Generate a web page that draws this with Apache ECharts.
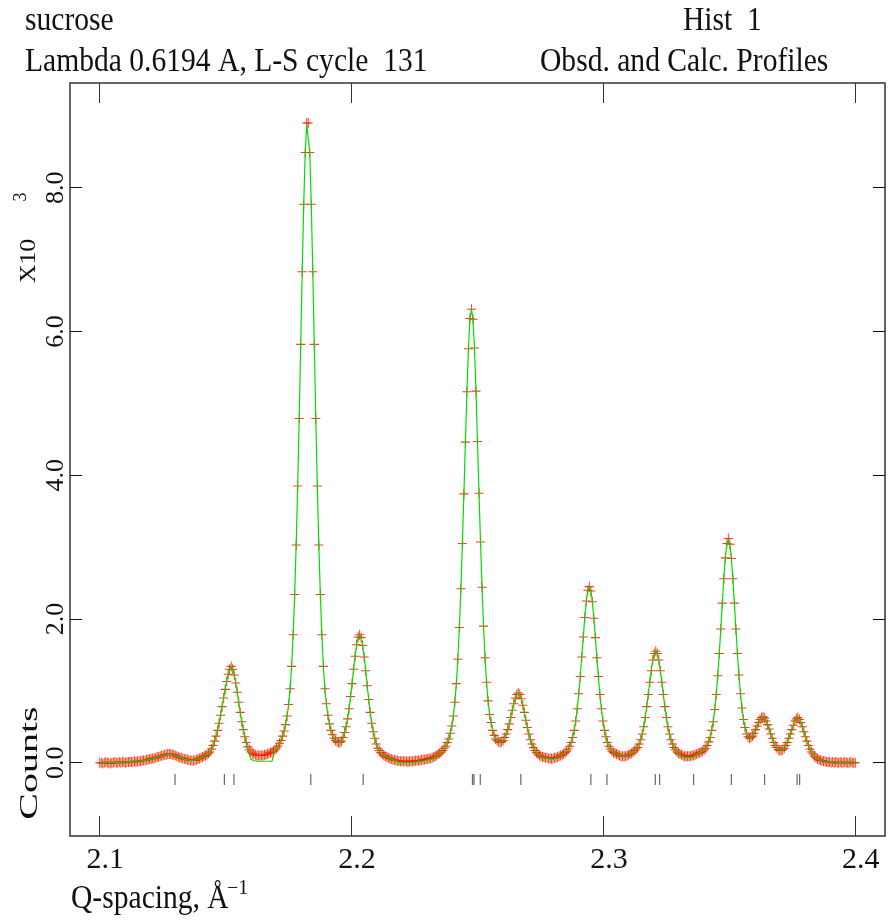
<!DOCTYPE html>
<html>
<head>
<meta charset="utf-8">
<script src="https://cdn.jsdelivr.net/npm/echarts@6.0.0/dist/echarts.min.js"></script>
<style>
html,body{margin:0;padding:0;background:#fff;}
#chart{width:890px;height:921px;}
</style>
</head>
<body>
<div id="chart"></div>
<script>
// Q grid of the profile points
const qStart = 2.1;
const qStep = 0.0006;

const obs = [
0.00,0.00,-0.01,0.00,0.01,0.00,0.00,-0.01,0.00,0.00,
0.01,0.00,0.00,0.01,0.00,0.01,0.01,0.00,0.01,0.01,
0.01,0.01,0.01,0.02,0.01,0.02,0.02,0.02,0.03,0.03,
0.03,0.04,0.04,0.05,0.05,0.06,0.06,0.07,0.08,0.08,
0.09,0.10,0.10,0.11,0.11,0.12,0.12,0.12,0.11,0.11,
0.10,0.09,0.08,0.07,0.07,0.06,0.05,0.05,0.04,0.04,
0.03,0.03,0.03,0.03,0.04,0.05,0.06,0.07,0.08,0.09,
0.10,0.11,0.13,0.15,0.19,0.24,0.30,0.37,0.45,0.55,
0.66,0.78,0.90,1.02,1.13,1.23,1.30,1.34,1.30,1.22,
1.11,0.98,0.84,0.70,0.57,0.46,0.36,0.28,0.22,0.18,
0.15,0.13,0.12,0.11,0.10,0.10,0.10,0.10,0.10,0.11,
0.11,0.12,0.13,0.14,0.15,0.16,0.18,0.20,0.23,0.27,
0.31,0.37,0.44,0.53,0.65,0.81,1.03,1.34,1.78,2.34,
3.03,3.85,4.79,5.82,6.83,7.77,8.49,8.90,8.90,8.49,
7.77,6.83,5.82,4.79,3.85,3.03,2.34,1.78,1.34,1.03,
0.82,0.66,0.54,0.45,0.39,0.34,0.31,0.29,0.28,0.28,
0.30,0.35,0.42,0.50,0.61,0.75,0.92,1.10,1.30,1.48,
1.64,1.75,1.78,1.74,1.63,1.47,1.28,1.07,0.88,0.70,
0.55,0.43,0.34,0.26,0.20,0.17,0.14,0.12,0.10,0.09,
0.08,0.07,0.06,0.05,0.04,0.04,0.03,0.03,0.02,0.02,
0.02,0.02,0.02,0.02,0.01,0.02,0.02,0.02,0.02,0.03,
0.03,0.03,0.03,0.04,0.04,0.04,0.05,0.05,0.06,0.06,
0.07,0.08,0.09,0.10,0.12,0.13,0.15,0.17,0.20,0.23,
0.28,0.33,0.41,0.51,0.65,0.84,1.10,1.44,1.88,2.42,
3.05,3.74,4.46,5.16,5.76,6.18,6.31,6.17,5.77,5.17,
4.47,3.75,3.07,2.44,1.90,1.46,1.12,0.86,0.67,0.56,
0.45,0.38,0.33,0.31,0.29,0.28,0.29,0.31,0.35,0.40,
0.46,0.54,0.63,0.73,0.82,0.90,0.95,0.97,0.95,0.89,
0.80,0.70,0.59,0.49,0.40,0.32,0.26,0.21,0.17,0.14,
0.12,0.10,0.09,0.08,0.08,0.07,0.07,0.06,0.06,0.06,
0.06,0.07,0.07,0.08,0.09,0.10,0.11,0.12,0.14,0.16,
0.19,0.23,0.28,0.35,0.45,0.58,0.75,0.96,1.20,1.47,
1.75,2.02,2.25,2.40,2.45,2.39,2.24,2.01,1.74,1.46,
1.20,0.95,0.75,0.58,0.45,0.36,0.28,0.23,0.19,0.16,
0.14,0.13,0.12,0.11,0.10,0.09,0.09,0.09,0.09,0.10,
0.11,0.12,0.13,0.15,0.17,0.19,0.21,0.26,0.32,0.40,
0.50,0.63,0.78,0.95,1.12,1.28,1.43,1.52,1.55,1.52,
1.43,1.28,1.12,0.95,0.78,0.63,0.50,0.40,0.32,0.26,
0.21,0.18,0.15,0.13,0.12,0.11,0.10,0.09,0.09,0.09,
0.09,0.09,0.10,0.10,0.11,0.12,0.13,0.14,0.15,0.16,
0.18,0.20,0.24,0.29,0.35,0.45,0.57,0.74,0.95,1.21,
1.52,1.86,2.22,2.56,2.85,3.05,3.12,3.04,2.84,2.56,
2.22,1.86,1.52,1.22,0.96,0.76,0.60,0.49,0.40,0.36,
0.34,0.35,0.37,0.41,0.46,0.51,0.56,0.60,0.63,0.64,
0.62,0.58,0.53,0.47,0.40,0.34,0.28,0.24,0.21,0.18,
0.17,0.17,0.18,0.20,0.24,0.28,0.34,0.40,0.46,0.52,
0.58,0.61,0.63,0.60,0.56,0.50,0.43,0.36,0.30,0.24,
0.19,0.15,0.12,0.09,0.07,0.05,0.04,0.03,0.03,0.02,
0.02,0.01,0.01,0.01,0.00,0.01,0.00,0.01,0.00,0.00,
0.01,0.00,0.00,0.01,0.00,0.00,0.00,0.01,0.00,0.00,
0.00
];

// Calculated profile (x10^3), same grid
const calc = [
0.00,0.00,-0.01,0.00,0.01,0.00,0.00,-0.01,0.00,0.00,
0.01,0.00,0.00,0.01,0.00,0.01,0.01,0.00,0.01,0.01,
0.01,0.01,0.01,0.02,0.01,0.02,0.02,0.02,0.03,0.03,
0.03,0.04,0.04,0.05,0.05,0.06,0.06,0.07,0.08,0.08,
0.09,0.10,0.10,0.11,0.11,0.12,0.12,0.12,0.11,0.11,
0.10,0.09,0.08,0.07,0.07,0.06,0.05,0.05,0.04,0.04,
0.03,0.03,0.03,0.03,0.04,0.05,0.06,0.07,0.08,0.09,
0.10,0.11,0.13,0.15,0.19,0.24,0.30,0.37,0.45,0.55,
0.66,0.78,0.90,1.02,1.13,1.23,1.30,1.34,1.30,1.22,
1.11,0.98,0.84,0.70,0.57,0.46,0.36,0.27,0.20,0.12,
0.05,0.03,0.03,0.02,0.02,0.02,0.02,0.02,0.02,0.02,
0.02,0.02,0.02,0.02,0.02,0.02,0.18,0.20,0.23,0.27,
0.31,0.37,0.44,0.53,0.65,0.81,1.03,1.34,1.78,2.34,
3.03,3.85,4.79,5.82,6.83,7.77,8.49,8.88,8.88,8.49,
7.77,6.83,5.82,4.79,3.85,3.03,2.34,1.78,1.34,1.03,
0.82,0.66,0.54,0.45,0.39,0.34,0.31,0.29,0.28,0.28,
0.30,0.35,0.42,0.50,0.61,0.75,0.92,1.10,1.30,1.48,
1.64,1.75,1.78,1.74,1.63,1.47,1.28,1.07,0.88,0.70,
0.55,0.43,0.34,0.26,0.20,0.17,0.14,0.12,0.10,0.09,
0.08,0.07,0.06,0.05,0.04,0.04,0.03,0.03,0.00,0.00,
0.00,0.00,0.00,0.00,0.00,0.00,0.00,0.00,0.00,0.01,
0.01,0.01,0.01,0.02,0.02,0.02,0.03,0.03,0.04,0.04,
0.05,0.06,0.07,0.10,0.12,0.13,0.15,0.17,0.20,0.23,
0.28,0.33,0.41,0.51,0.65,0.84,1.10,1.44,1.88,2.42,
3.05,3.74,4.46,5.16,5.76,6.18,6.31,6.17,5.77,5.17,
4.47,3.75,3.07,2.44,1.90,1.46,1.12,0.86,0.67,0.56,
0.45,0.38,0.33,0.31,0.29,0.28,0.29,0.31,0.35,0.40,
0.46,0.54,0.63,0.73,0.82,0.90,0.95,0.97,0.95,0.89,
0.80,0.70,0.59,0.49,0.40,0.32,0.26,0.21,0.17,0.14,
0.11,0.09,0.08,0.07,0.07,0.06,0.06,0.05,0.05,0.05,
0.05,0.06,0.06,0.08,0.09,0.10,0.11,0.12,0.14,0.16,
0.19,0.23,0.28,0.35,0.45,0.58,0.75,0.96,1.20,1.47,
1.75,2.02,2.25,2.40,2.45,2.39,2.24,2.01,1.74,1.46,
1.20,0.95,0.75,0.58,0.45,0.36,0.28,0.23,0.19,0.16,
0.14,0.13,0.12,0.11,0.10,0.09,0.09,0.09,0.09,0.10,
0.11,0.12,0.13,0.15,0.17,0.19,0.21,0.26,0.32,0.40,
0.50,0.63,0.78,0.95,1.12,1.28,1.43,1.52,1.55,1.52,
1.43,1.28,1.12,0.95,0.78,0.63,0.50,0.40,0.32,0.26,
0.21,0.18,0.15,0.11,0.10,0.09,0.08,0.07,0.07,0.07,
0.07,0.07,0.08,0.08,0.09,0.10,0.11,0.14,0.15,0.16,
0.18,0.20,0.24,0.29,0.35,0.45,0.57,0.74,0.95,1.21,
1.52,1.86,2.22,2.56,2.85,3.05,3.10,3.04,2.84,2.56,
2.22,1.86,1.52,1.22,0.96,0.76,0.60,0.49,0.40,0.36,
0.34,0.35,0.37,0.41,0.46,0.51,0.56,0.60,0.63,0.64,
0.62,0.58,0.53,0.47,0.40,0.34,0.28,0.24,0.21,0.18,
0.17,0.17,0.18,0.20,0.24,0.28,0.34,0.40,0.46,0.52,
0.58,0.61,0.63,0.60,0.56,0.50,0.43,0.36,0.30,0.24,
0.19,0.15,0.12,0.09,0.07,0.05,0.04,0.03,0.03,0.02,
0.02,0.01,0.01,0.01,0.00,0.01,0.00,0.01,0.00,0.00,
0.01,0.00,0.00,0.01,0.00,0.00,0.00,0.01,0.00,0.00,
0.00
];

// Reflection positions (Q)
const reflections = [2.1299, 2.1495, 2.1533, 2.1838, 2.2046, 2.2480, 2.2486, 2.2511,
  2.2672, 2.2950, 2.3014, 2.3206, 2.3223, 2.3358, 2.3508, 2.3640, 2.3769, 2.3779];

// Tick labels
const xTicks = [2.1, 2.2, 2.3, 2.4];
const yTicks = [0, 2, 4, 6, 8];

// texts
const titleLeft1 = 'sucrose';
const titleRight1 = 'Hist  1';
const titleLeft2 = 'Lambda 0.6194 A, L-S cycle  131';
const titleRight2 = 'Obsd. and Calc. Profiles';

// ---- build ----
const X_MIN = 2.0882, X_MAX = 2.4118;
const Y_MIN = -1.02, Y_MAX = 9.457;
const TICK_Y = -0.234;
const FONT = 'Liberation Serif';

const qAt = i => +(qStart + i * qStep).toFixed(4);
const obsData = obs.map((v, i) => [qAt(i), v]);
const calcData = calc.map((v, i) => [qAt(i), v]);
const reflData = reflections.map(q => [q, TICK_Y]);

const chart = echarts.init(document.getElementById('chart'), null, {renderer: 'canvas'});

const xAxisBase = {
  type: 'value', min: X_MIN, max: X_MAX,
  axisLine: {show: false, onZero: false},
  splitLine: {show: false},
  axisTick: {show: true, inside: true, length: 20, customValues: xTicks, lineStyle: {color: '#333', width: 1}}
};
const yAxisBase = {
  type: 'value', min: Y_MIN, max: Y_MAX,
  axisLine: {show: false, onZero: false},
  splitLine: {show: false},
  axisTick: {show: true, inside: true, length: 12, customValues: yTicks, lineStyle: {color: '#111', width: 1}}
};

const txt = (text, x, y, size, opts) => Object.assign({
  type: 'text', x: x, y: y, silent: true,
  style: {text: text, fontSize: size, fontFamily: FONT, fill: '#111', align: 'left', verticalAlign: 'middle'}
}, opts || {});

chart.setOption({
  animation: false,
  backgroundColor: '#fff',
  grid: {left: 70, right: 5, top: 83, bottom: 85, show: true, borderColor: '#333', borderWidth: 1.5,
         backgroundColor: 'transparent', containLabel: false, outerBoundsMode: 'none'},
  xAxis: [
    Object.assign({}, xAxisBase, {position: 'bottom',
      axisLabel: {show: true, customValues: xTicks, formatter: v => v.toFixed(1),
        fontFamily: FONT, fontSize: 30, color: '#111', margin: 9, padding: [0, 0, 0, 11]}}),
    Object.assign({}, xAxisBase, {position: 'top', axisLabel: {show: false}})
  ],
  yAxis: [
    Object.assign({}, yAxisBase, {position: 'left',
      axisLabel: {show: true, customValues: yTicks, rotate: 90, formatter: v => v.toFixed(1),
        fontFamily: FONT, fontSize: 26, color: '#111', margin: 1}}),
    Object.assign({}, yAxisBase, {position: 'right', axisLabel: {show: false}})
  ],
  series: [
    {
      name: 'Obsd', type: 'scatter', xAxisIndex: 0, yAxisIndex: 0,
      data: obsData, large: false, z: 2,
      symbol: 'path://M0,5H10M5,0V10', symbolSize: [9, 10],
      itemStyle: {color: 'rgba(0,0,0,0)', borderColor: '#ff2200', borderWidth: 1, opacity: 0.9},
      emphasis: {disabled: true}
    },
    {
      name: 'Calc', type: 'line', xAxisIndex: 0, yAxisIndex: 0,
      data: calcData, showSymbol: false, symbol: 'none', z: 3,
      lineStyle: {color: '#00dd00', width: 1.2},
      emphasis: {disabled: true}
    },
    {
      name: 'Reflections', type: 'scatter', xAxisIndex: 0, yAxisIndex: 0,
      data: reflData, symbol: 'rect', symbolSize: [1.2, 11], z: 2,
      itemStyle: {color: '#444'},
      emphasis: {disabled: true}
    }
  ],
  graphic: [
    txt(titleLeft1, 25, 21, 34, {scaleX: 0.87}),
    txt(titleRight1, 683, 21, 34, {scaleX: 0.87}),
    txt(titleLeft2, 25, 62, 34, {scaleX: 0.87}),
    txt(titleRight2, 540, 62, 34, {scaleX: 0.87}),
    txt('Q-spacing, Å', 71, 899, 34, {scaleX: 0.87}),
    txt('\u22121', 227, 889, 20, {scaleX: 1.0}),
    {type: 'text', x: 30, y: 763, rotation: Math.PI / 2, scaleX: 1.6, silent: true,
     style: {text: 'Counts', fontSize: 25, fontFamily: FONT, fill: '#111', align: 'center', verticalAlign: 'middle'}},
    {type: 'text', x: 29, y: 261, rotation: Math.PI / 2, scaleX: 1.08, silent: true,
     style: {text: 'X10', fontSize: 24, fontFamily: FONT, fill: '#111', align: 'center', verticalAlign: 'middle'}},
    {type: 'text', x: 21, y: 197, rotation: Math.PI / 2, silent: true,
     style: {text: '3', fontSize: 18, fontFamily: FONT, fill: '#111', align: 'center', verticalAlign: 'middle'}}
  ]
});
</script>
</body>
</html>
